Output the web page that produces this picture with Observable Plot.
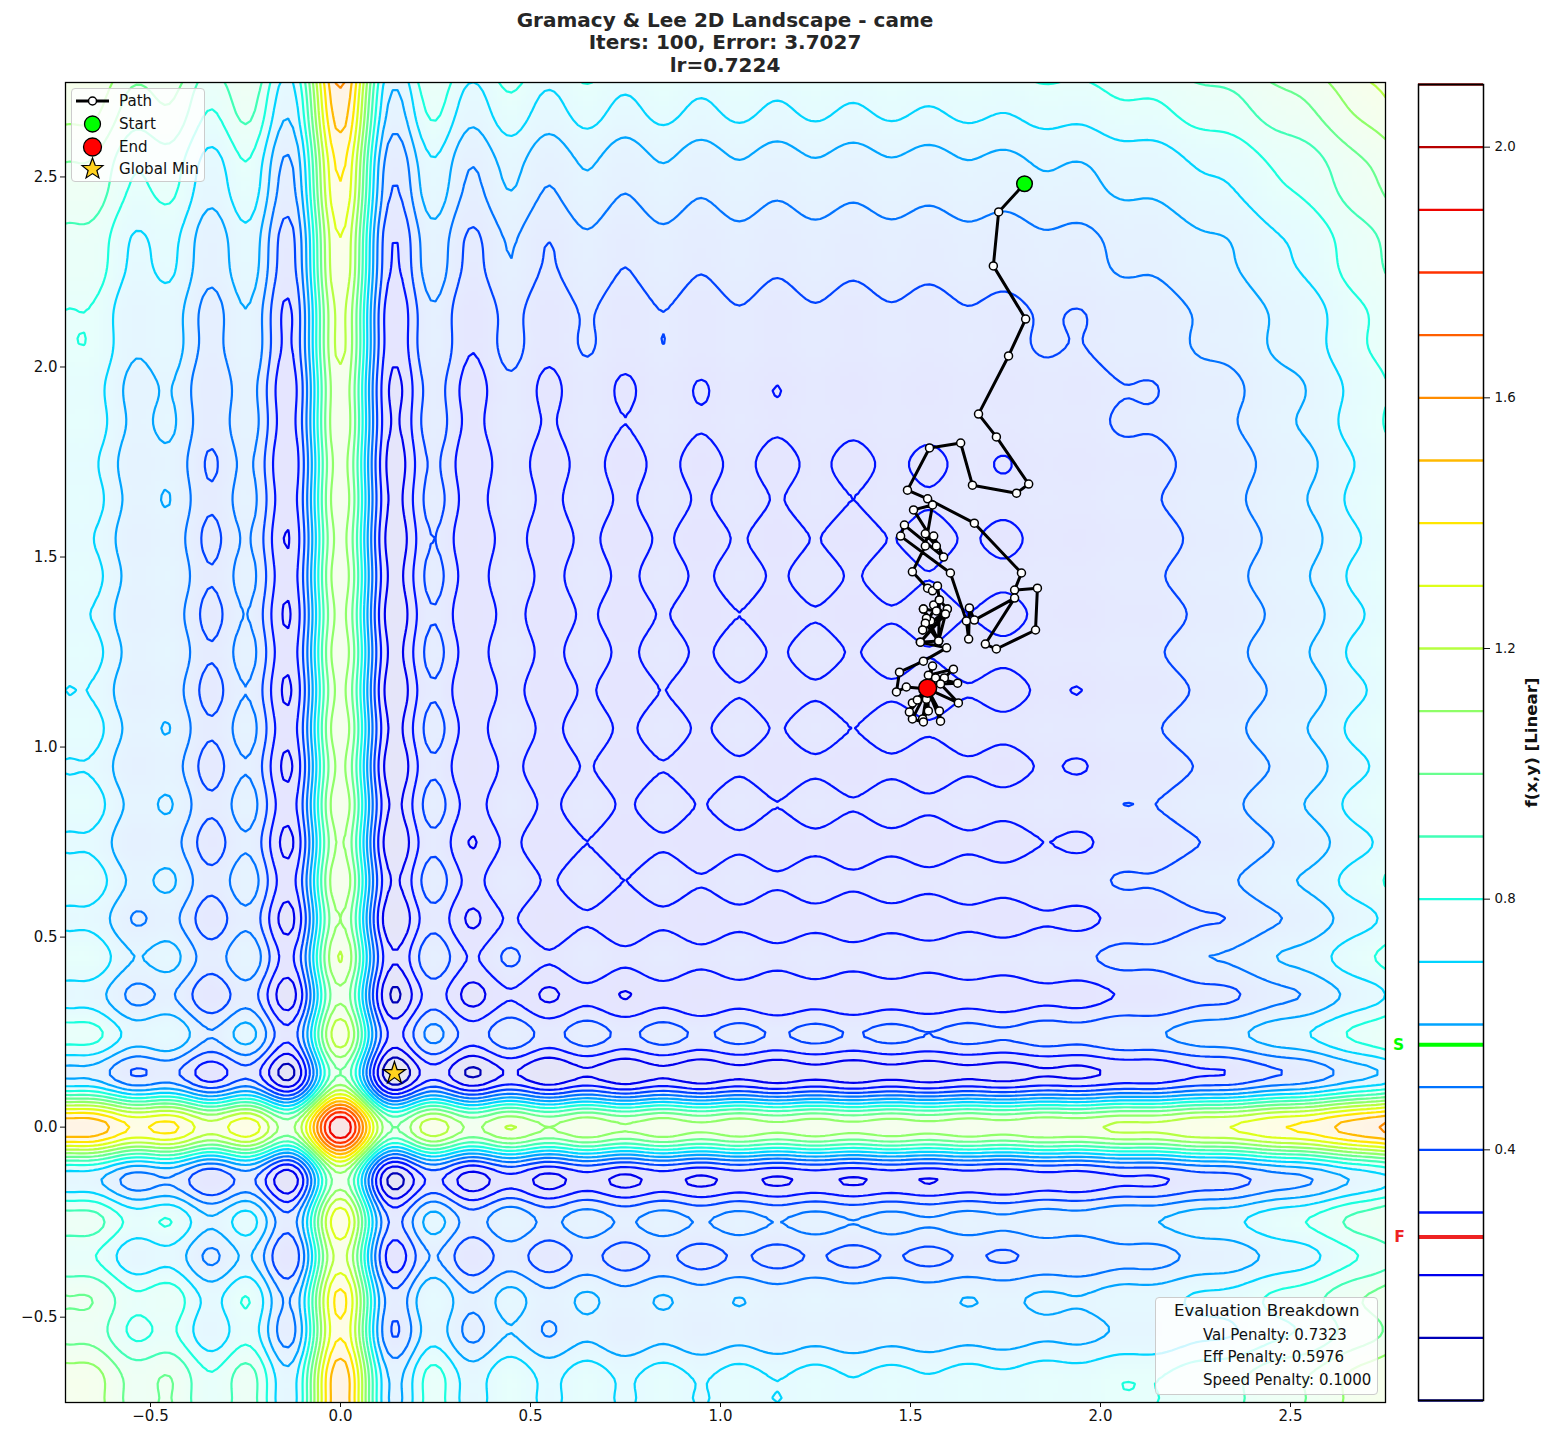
<!DOCTYPE html>
<html>
<head>
<meta charset="utf-8">
<script src="https://cdn.jsdelivr.net/npm/d3@7"></script>
<script src="https://cdn.jsdelivr.net/npm/@observablehq/plot@0.6"></script>
<style>
html,body{margin:0;padding:0;background:#fff;font-family:"DejaVu Sans",sans-serif;}
#page{position:relative;width:1553px;height:1444px;overflow:hidden;}
#page svg{position:absolute;top:0;left:0;}
#title{position:absolute;left:65px;width:1320px;top:9px;text-align:center;font-weight:bold;font-size:20px;line-height:22.3px;color:#262626;}
.box{position:absolute;background:rgba(255,255,255,.8);border:1.5px solid #ccc;border-radius:4px;box-sizing:border-box;color:#111;}
.box span{position:absolute;white-space:nowrap;}
#legend{left:71px;top:88px;width:134px;height:94px;font-size:15.1px;}
#breakdown{left:1155px;top:1297px;width:223px;height:98px;font-size:15px;}
</style>
</head>
<body>
<div id="page">
<div id="title">Gramacy &amp; Lee 2D Landscape - came<br>Iters: 100, Error: 3.7027<br>lr=0.7224</div>
</div>
<script>
// PROVENANCE: profileOnStep and profileMidStep are NOT pure pixel readings. They were
// hand-worked from the Gramacy & Lee form named in the chart title, then adjusted against
// the contours in the picture (offset, and the peak sample, which draws no 2.0 ring).
// The surface is assumed separable (cell = profile[x] + profile[y]).
// Path points are estimates from the picture; their visiting order is inferred, and some
// points are revisited to reproduce the dense black clusters.

// Axis profile at x = -0.75, -0.725, ... 2.75 (141 values, raw function units)
const profileOnStep = [
8.712,8.366,8.352,8.396,8.181,7.539,6.554,5.539,4.863,4.736,5.063,5.477,5.532,4.955,3.842,2.632,1.893,1.994,2.856,3.929,4.441,3.823,2.074,-0.114,-1.584,-1.226,1.464,6.050,11.216,15.246,
16.6,
15.046,10.815,5.446,0.656,-2.242,-2.811,-1.557,0.410,1.932,2.316,1.562,0.240,-0.880,-1.250,-0.790,0.130,0.941,1.203,0.820,0.063,-0.622,-0.868,-0.582,0.026,0.586,0.784,0.535,0.008,-0.482,-0.663,-0.453,0.002,0.430,0.589,0.404,0,-0.382,-0.526,-0.363,0,0.345,0.476,0.329,0,-0.314,-0.435,-0.301,0.002,0.292,0.404,0.283,0.008,-0.256,-0.355,-0.237,0.026,0.281,0.386,0.291,0.063,-0.156,-0.231,-0.115,0.130,0.371,0.482,0.419,0.240,0.071,0.030,0.162,0.410,0.657,0.792,0.775,0.656,0.548,0.559,0.725,1.0,1.279,1.460,1.506,1.464,1.436,1.516,1.743,2.074,2.411,2.663,2.798,2.856,2.930,3.109,3.426,3.842,4.269,4.625,4.876,5.063,5.269,5.576,6.017,6.554,7.108,7.601,8.004,8.352,8.724,9.197];
// Axis profile at the midpoints x = -0.7375, -0.7125, ... 2.7375 (140 values)
const profileMidStep = [
8.487,8.331,8.387,8.336,7.916,7.073,6.025,5.139,4.729,4.860,5.289,5.574,5.327,4.445,3.212,2.172,1.831,2.356,3.414,4.301,4.291,3.061,0.969,-1.017,-1.686,-0.170,3.586,8.665,13.477,16.358,
16.258,13.176,8.163,2.880,-1.081,-2.807,-2.351,-0.584,1.285,2.283,2.056,0.924,-0.389,-1.176,-1.109,-0.353,0.583,1.156,1.082,0.461,-0.317,-0.813,-0.784,-0.297,0.335,0.742,0.710,0.288,-0.262,-0.621,-0.603,-0.241,0.236,0.553,0.536,0.216,-0.210,-0.493,-0.480,-0.194,0.189,0.445,0.435,0.176,-0.172,-0.406,-0.396,-0.160,0.160,0.376,0.371,0.156,-0.136,-0.332,-0.322,-0.115,0.164,0.358,0.362,0.185,-0.058,-0.217,-0.196,-0.002,0.260,0.447,0.471,0.336,0.146,0.030,0.076,0.278,0.542,0.743,0.801,0.721,0.593,0.535,0.623,0.855,1.146,1.386,1.499,1.491,1.440,1.458,1.612,1.902,2.247,2.552,2.745,2.832,2.885,3.002,3.250,3.626,4.060,4.461,4.763,4.974,5.157,5.406,5.780,6.278,6.834,7.366,7.813,8.181,8.529,8.945];
const surfaceOffset = 5.72;
const surfaceDivisor = 19.5;

const levels = [0,0.1,0.2,0.3,0.4,0.5,0.6,0.7,0.8,0.9,1.0,1.1,1.2,1.3,1.4,1.5,1.6,1.7,1.8,1.9,2.0,2.1];
const colorbarTicks = [0.4,0.8,1.2,1.6,2.0];
const startValue = 0.5676;
const finalValue = 0.261;

const pathX = [1.8,1.732,1.718,1.803,1.758,1.679,1.726,1.811,1.779,1.663,1.632,1.55,1.492,1.545,1.668,1.792,1.774,1.834,1.829,1.726,1.697,1.774,1.668,1.655,1.653,1.647,1.605,1.474,1.484,1.587,1.561,1.539,1.568,1.508,1.558,1.539,1.505,1.545,1.558,1.571,1.576,1.597,1.592,1.561,1.568,1.534,1.553,1.542,1.532,1.539,1.574,1.576,1.532,1.597,1.526,1.592,1.574,1.534,1.574,1.526,1.595,1.534,1.471,1.463,1.489,1.545,1.558,1.547,1.613,1.589,1.566,1.624,1.579,1.626,1.545,1.576,1.579,1.545,1.547,1.532,1.545,1.534,1.505,1.545,1.497,1.505,1.545,1.518,1.542,1.545];
const pathY = [2.482,2.408,2.266,2.126,2.029,1.876,1.816,1.692,1.668,1.689,1.8,1.787,1.676,1.653,1.589,1.458,1.413,1.418,1.308,1.258,1.271,1.392,1.334,1.366,1.284,1.332,1.458,1.555,1.584,1.5,1.555,1.561,1.529,1.624,1.637,1.529,1.461,1.418,1.411,1.424,1.387,1.363,1.35,1.374,1.358,1.363,1.332,1.339,1.308,1.326,1.279,1.387,1.308,1.363,1.276,1.35,1.279,1.363,1.279,1.276,1.261,1.226,1.197,1.145,1.158,1.153,1.213,1.189,1.205,1.182,1.182,1.168,1.166,1.116,1.153,1.095,1.068,1.153,1.095,1.074,1.153,1.066,1.074,1.153,1.092,1.116,1.153,1.124,1.126,1.155];
const start = [1.8,2.482];
const end = [1.545,1.155];
const globalMin = [0.142,0.142];

const xTicks = [-0.5,0,0.5,1,1.5,2,2.5];
const yTicks = [-0.5,0,0.5,1,1.5,2,2.5];
const legendLabels = ["Path","Start","End","Global Min"];
const breakdownTitle = "Evaluation Breakdown";
const breakdownLines = ["Val Penalty: 0.7323","Eff Penalty: 0.5976","Speed Penalty: 0.1000"];

// matplotlib jet
function jet(t){
  const seg=(pts)=>{for(let i=1;i<pts.length;i++){if(t<=pts[i][0]){const a=pts[i-1],b=pts[i];return a[1]+(b[1]-a[1])*(t-a[0])/(b[0]-a[0]);}}return pts[pts.length-1][1];};
  const r=seg([[0,0],[.35,0],[.66,1],[.89,1],[1,.5]]);
  const g=seg([[0,0],[.125,0],[.375,1],[.64,1],[.91,0],[1,0]]);
  const b=seg([[0,.5],[.11,1],[.34,1],[.65,0],[1,0]]);
  return `rgb(${Math.round(r*255)},${Math.round(g*255)},${Math.round(b*255)})`;
}

const axisProfile = profileOnStep.flatMap((v,i)=> i<profileMidStep.length ? [v,profileMidStep[i]] : [v]);
const n = axisProfile.length;
const grid = new Float64Array(n*n);
for(let r=0;r<n;r++)for(let c=0;c<n;c++)grid[r*n+c]=(axisProfile[r]+axisProfile[c]+surfaceOffset)/surfaceDivisor;
const ext = {width:n,height:n,x1:-0.75625,x2:2.75625,y1:-0.75625,y2:2.75625};
const pathRows = pathX.map((x,i)=>({x,y:pathY[i]}));

const colorOpt = {type:"linear",domain:[0,2.1],interpolate:jet};

const main = Plot.plot({
  width:1553,height:1444,
  marginLeft:65,marginRight:168,marginTop:82,marginBottom:42,
  style:{fontFamily:"DejaVu Sans",fontSize:"15px",color:"#111",background:"transparent"},
  x:{domain:[-0.7237,2.75],label:null},
  y:{domain:[-0.7245,2.7485],label:null},
  color:colorOpt,
  marks:[
    Plot.raster(grid,{...ext,fill:Plot.identity,fillOpacity:0.1,clip:true}),
    Plot.contour(grid,{...ext,value:Plot.identity,thresholds:levels,stroke:"value",strokeWidth:2.2,clip:true}),
    Plot.line(pathRows,{x:"x",y:"y",stroke:"black",strokeWidth:3,curve:"linear"}),
    Plot.dot(pathRows.slice(0,-1),{x:"x",y:"y",r:4,fill:"white",stroke:"black",strokeWidth:1.5}),
    Plot.dot([start],{x:d=>d[0],y:d=>d[1],r:7.8,fill:"lime",stroke:"black",strokeWidth:1.5}),
    Plot.dot([end],{x:d=>d[0],y:d=>d[1],r:9,fill:"red",stroke:"black",strokeWidth:1.5}),
    Plot.dot([globalMin],{x:d=>d[0],y:d=>d[1],r:7,symbol:"star",fill:"#ffd21f",stroke:"black",strokeWidth:1.2}),
    Plot.frame({stroke:"black",strokeWidth:1.3}),
    Plot.axisX({ticks:xTicks,tickSize:5,tickPadding:3,label:null,tickFormat:d3.format(".1f"),fontSize:15}),
    Plot.axisY({ticks:yTicks,tickSize:5,tickPadding:3,label:null,tickFormat:d3.format(".1f"),fontSize:15})
  ]
});

const bar = Plot.plot({
  width:168,height:1444,
  marginLeft:33,marginRight:70,marginTop:84,marginBottom:44,
  style:{fontFamily:"DejaVu Sans",fontSize:"13.4px",color:"#111",background:"transparent"},
  x:{domain:[0,1],axis:null},
  y:{domain:[0,2.1],label:null,axis:null},
  color:colorOpt,
  marks:[
    Plot.ruleY(levels,{y:d=>d,stroke:d=>d,strokeWidth:2.4}),
    Plot.ruleY([startValue],{y:d=>d,stroke:"lime",strokeWidth:4}),
    Plot.ruleY([finalValue],{y:d=>d,stroke:"#ee2222",strokeWidth:4}),
    Plot.frame({stroke:"black",strokeWidth:1.5}),
    Plot.axisY({anchor:"right",ticks:colorbarTicks,tickSize:6,tickPadding:5,label:null,tickFormat:d3.format(".1f"),fontSize:13.4}),
    Plot.text(["S"],{y:[startValue],frameAnchor:"left",dx:-20,fill:"lime",fontWeight:"bold",fontSize:15.5,textAnchor:"middle"}),
    Plot.text(["F"],{y:[finalValue],frameAnchor:"left",dx:-19,fill:"#ee2222",fontWeight:"bold",fontSize:15.5,textAnchor:"middle"}),
    Plot.text(["f(x,y) [Linear]"],{frameAnchor:"right",dx:48,rotate:-90,fontWeight:"bold",fontSize:16.6,textAnchor:"middle"})
  ]
});
bar.style.left="1385px";

const page=document.getElementById("page");
page.insertBefore(main,page.firstChild);
page.appendChild(bar);

// legend box
const legend=document.createElement("div");legend.id="legend";legend.className="box";
legend.innerHTML=`<svg width="134" height="94" style="position:absolute;left:-1px;top:-1px;overflow:visible">
<line x1="5" x2="38" y1="13" y2="13" stroke="black" stroke-width="3"/><circle cx="21.5" cy="13" r="4" fill="white" stroke="black" stroke-width="1.5"/>
<circle cx="21.5" cy="36" r="8" fill="lime" stroke="black" stroke-width="1.3"/>
<circle cx="21.5" cy="59" r="9" fill="red" stroke="black" stroke-width="1.3"/>
<polygon points="${d3.range(10).map(i=>{const R=i%2?4.6:11,a=-Math.PI/2+i*Math.PI/5;return [21.5+R*Math.cos(a),81+R*Math.sin(a)].join(",")}).join(" ")}" fill="#ffd21f" stroke="black" stroke-width="1.2"/>
</svg>`;
[3,26,49,71].forEach((t,i)=>{const s=document.createElement("span");s.style.left="47px";s.style.top=t+"px";s.textContent=legendLabels[i];legend.appendChild(s);});
page.appendChild(legend);

// breakdown box
const bd=document.createElement("div");bd.id="breakdown";bd.className="box";
const t=document.createElement("span");t.textContent=breakdownTitle;t.style.cssText="left:18px;top:3px;font-size:16.6px";bd.appendChild(t);
[28,50,73].forEach((y,i)=>{const s=document.createElement("span");s.style.left="47px";s.style.top=y+"px";s.textContent=breakdownLines[i];bd.appendChild(s);});
page.appendChild(bd);
</script>
</body>
</html>
